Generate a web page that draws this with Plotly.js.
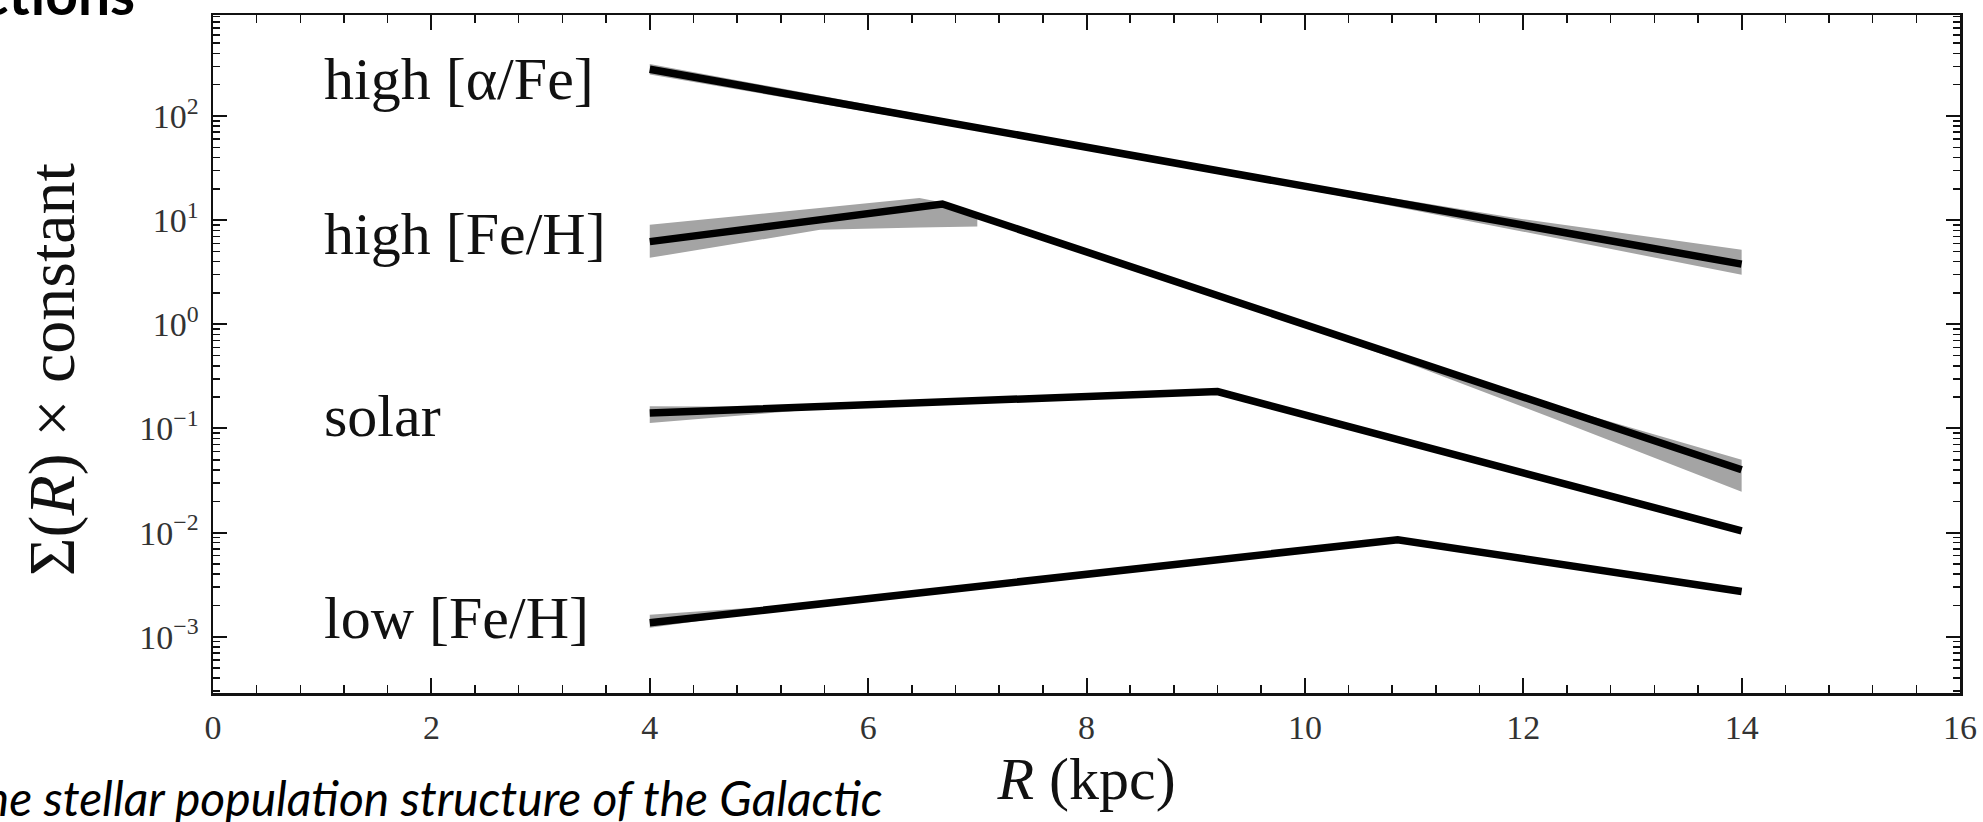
<!DOCTYPE html>
<html>
<head>
<meta charset="utf-8">
<script src="https://cdn.plot.ly/plotly-3.0.1.min.js"></script>
<style>
  html, body { margin: 0; padding: 0; background: #ffffff; }
  #chart { width: 1983px; height: 822px; }
</style>
</head>
<body>
<div id="chart"></div>
<script>
// ---------------- data ----------------
// Galactocentric radius R (kpc) and surface density Sigma(R) x constant
const R_alpha      = [4, 14];
const S_alpha      = [281, 3.78];
const R_alphaBand  = [4, 8, 10, 12, 14];
const lo_alphaBand = [251, 47.9, 19.95, 7.76, 2.99];
const hi_alphaBand = [316, 52.5, 22.4, 10.23, 5.19];

const R_feHigh      = [4, 6.68, 14];
const S_feHigh      = [6.22, 14.3, 0.0401];
const R_feHighBandA  = [4, 5.56, 6.47, 6.68, 7.0];
const lo_feHighBandA = [4.35, 8.07, 8.5, 8.6, 8.7];
const hi_feHighBandA = [9.02, 13.15, 16.3, 14.8, 11.07];
const R_feHighBandB  = [10.2, 11.03, 12.24, 14];
const lo_feHighBandB = [0.80, 0.391, 0.129, 0.0247];
const hi_feHighBandB = [0.88, 0.45, 0.172, 0.050];

const R_solar      = [4, 9.2, 14];
const S_solar      = [0.141, 0.226, 0.0104];
const R_solarBand  = [4, 5, 6];
const lo_solarBand = [0.113, 0.138, 0.169];
const hi_solarBand = [0.163, 0.162, 0.171];

const R_feLow      = [4, 10.85, 14];
const S_feLow      = [0.00136, 0.00855, 0.00272];
const R_feLowBand  = [4, 5, 6];
const lo_feLowBand = [0.00122, 0.00170, 0.00232];
const hi_feLowBand = [0.00163, 0.00192, 0.00236];

const populationLabels = ['high [α/Fe]', 'high [Fe/H]', 'solar', 'low [Fe/H]'];

const yTickVals  = [0.001, 0.01, 0.1, 1, 10, 100];
const yTickText  = ['10<sup>−3</sup>', '10<sup>−2</sup>', '10<sup>−1</sup>', '10<sup>0</sup>', '10<sup>1</sup>', '10<sup>2</sup>'];
const xTickVals  = [0, 2, 4, 6, 8, 10, 12, 14, 16];

// ---------------- helpers ----------------
const BAND = '#a4a4a4';
const INK = '#000000';
function band(R, lo, hi) {
  return {
    type: 'scatter', mode: 'lines',
    x: R.concat(R.slice().reverse()),
    y: hi.concat(lo.slice().reverse()),
    fill: 'toself', fillcolor: BAND,
    line: { width: 0, color: BAND },
    hoverinfo: 'skip', showlegend: false
  };
}
function line(R, S, name) {
  return {
    type: 'scatter', mode: 'lines', name: name,
    x: R, y: S,
    line: { color: INK, width: 7.5 },
    showlegend: false
  };
}

const traces = [
  band(R_alphaBand, lo_alphaBand, hi_alphaBand),
  band(R_feHighBandA, lo_feHighBandA, hi_feHighBandA),
  band(R_feHighBandB, lo_feHighBandB, hi_feHighBandB),
  band(R_solarBand, lo_solarBand, hi_solarBand),
  band(R_feLowBand, lo_feLowBand, hi_feLowBand),
  line(R_alpha, S_alpha, populationLabels[0]),
  line(R_feHigh, S_feHigh, populationLabels[1]),
  line(R_solar, S_solar, populationLabels[2]),
  line(R_feLow, S_feLow, populationLabels[3])
];

// minor ticks of the log axis: 2..9 x 10^n
const yMinor = [];
for (let n = -4; n <= 2; n++) for (let d = 2; d <= 9; d++) yMinor.push(d * Math.pow(10, n));

const SERIF = 'Liberation Serif, Times New Roman, serif';
const labelFont = { family: SERIF, size: 60, color: '#111' };
const labelY = [2.357, 0.868, -0.880, -2.818];   // log10 positions of label centres

const annotations = populationLabels.map((t, i) => ({
  text: t, xref: 'x', yref: 'y', x: 1.0, y: labelY[i],
  xanchor: 'left', yanchor: 'middle', showarrow: false, font: labelFont
}));
// y axis title, placed as in the reference
annotations.push({
  text: 'Σ(<i>R</i>) × constant', xref: 'paper', yref: 'paper',
  x: (52 - 213) / 1747, y: (693 - 370) / 678, textangle: -90,
  xanchor: 'center', yanchor: 'middle', showarrow: false,
  font: { family: SERIF, size: 66, color: '#111' }
});
// fragments of the slide around the figure
annotations.push({
  text: '<b>ctions</b>', xref: 'paper', yref: 'paper',
  x: (137 - 213) / 1747, y: (693 + 7) / 678,
  xanchor: 'right', yanchor: 'middle', showarrow: false,
  font: { family: 'Lato, Open Sans, sans-serif', size: 57, color: '#000' }
});
annotations.push({
  text: '<i>The stellar population structure of the Galactic</i>', xref: 'paper', yref: 'paper',
  x: (885 - 213) / 1747, y: (693 - 797) / 678,
  xanchor: 'right', yanchor: 'middle', showarrow: false,
  font: { family: 'Lato, Open Sans, sans-serif', size: 48, color: '#000' }
});

const axisCommon = {
  showline: true, linewidth: 2.5, linecolor: '#111',
  mirror: 'allticks', ticks: 'inside', tickwidth: 2, tickcolor: '#111',
  showgrid: false, zeroline: false,
  tickfont: { family: SERIF, size: 34, color: '#333' }
};

const layout = {
  width: 1983, height: 822,
  margin: { l: 213, r: 23, t: 15, b: 129, pad: 0 },
  paper_bgcolor: '#ffffff', plot_bgcolor: '#ffffff',
  showlegend: false,
  font: { family: SERIF, color: '#111' },
  xaxis: Object.assign({}, axisCommon, {
    range: [0, 16], tickmode: 'array', tickvals: xTickVals,
    ticklen: 15, ticklabelstandoff: 3,
    minor: { ticks: 'inside', dtick: 0.4, tick0: 0, ticklen: 8, tickwidth: 1.5, tickcolor: '#111', showgrid: false },
    title: { text: '<i>R</i> (kpc)', font: { family: SERIF, size: 60, color: '#111' }, standoff: 10 }
  }),
  yaxis: Object.assign({}, axisCommon, {
    type: 'log', range: [-3.54, 2.97], tickmode: 'array',
    tickvals: yTickVals, ticktext: yTickText,
    ticklen: 14, ticklabelstandoff: 5,
    minor: { ticks: 'inside', tickmode: 'array', tickvals: yMinor, ticklen: 7, tickwidth: 1.5, tickcolor: '#111', showgrid: false }
  }),
  annotations: annotations
};

Plotly.newPlot('chart', traces, layout, { staticPlot: true, displayModeBar: false });
</script>
</body>
</html>
